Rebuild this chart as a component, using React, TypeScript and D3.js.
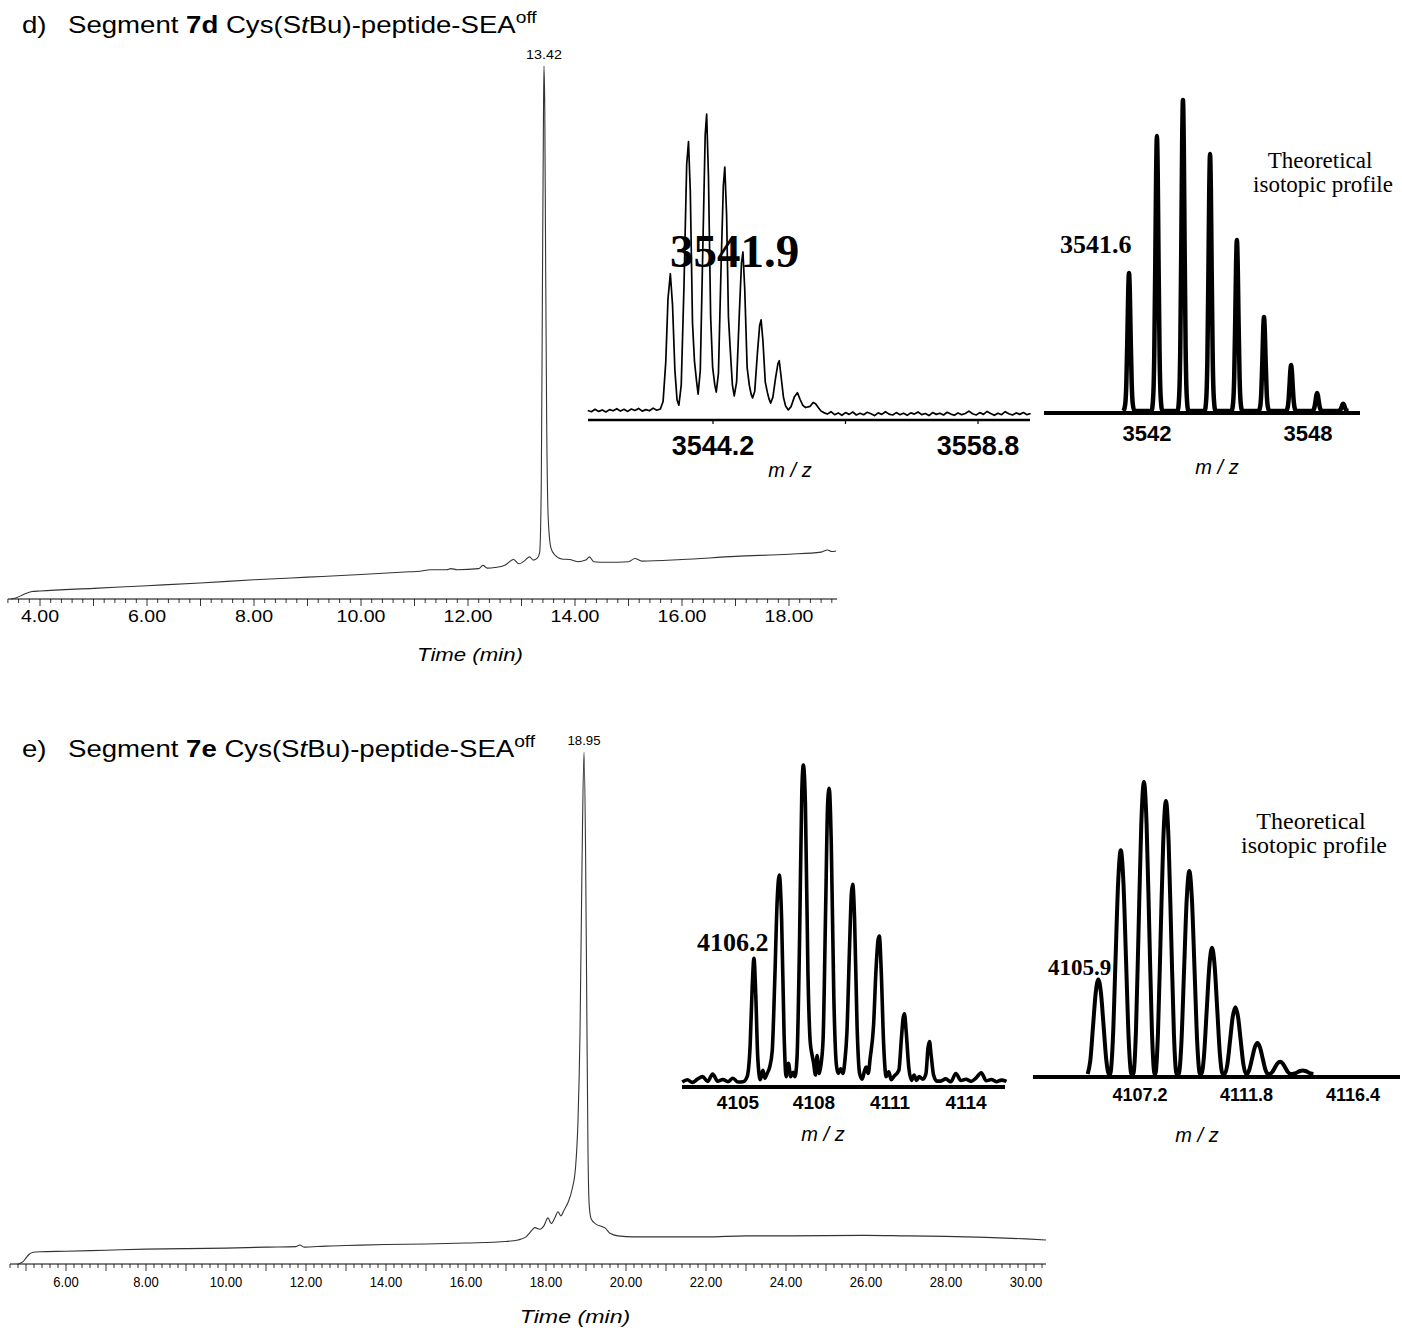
import React from 'react';
import * as d3 from 'd3';

type Pt = [number, number];

const FONT_SANS = '"Liberation Sans", Arial, sans-serif';
const FONT_SERIF = '"Liberation Serif", "Times New Roman", serif';

// ---------- HPLC traces: [time (min), signal (% of main peak)] ----------
const CHROM_D: Pt[] = [
  [3.45, 0], [3.55, 0.2], [3.7, 0.9], [3.85, 1.4], [4.0, 1.5], [5.0, 2.0], [6.0, 2.5],
  [7.0, 3.0], [8.0, 3.6], [9.0, 4.1], [10.0, 4.6], [10.9, 5.1], [11.1, 5.2], [11.3, 5.5],
  [11.6, 5.5], [11.68, 5.7], [11.8, 5.5], [12.2, 5.7], [12.28, 6.3], [12.36, 5.8],
  [12.5, 5.9], [12.7, 6.4], [12.85, 7.4], [12.95, 6.6], [13.05, 7.1], [13.15, 7.9],
  [13.22, 7.3], [13.3, 7.7], [13.34, 8.8], [13.37, 22], [13.39, 56], [13.41, 90],
  [13.42, 100], [13.435, 92], [13.45, 65], [13.47, 34], [13.5, 15], [13.55, 9.6],
  [13.62, 8.3], [13.75, 7.5], [13.9, 7.4], [14.05, 7.0], [14.2, 7.3], [14.27, 7.9],
  [14.35, 7.0], [14.6, 6.9], [15.0, 7.0], [15.12, 7.6], [15.25, 7.1], [16.0, 7.4],
  [17.0, 8.0], [18.0, 8.4], [18.6, 8.8], [18.72, 9.2], [18.8, 8.9], [18.88, 9.0],
];

const CHROM_E: Pt[] = [
  [4.8, 0], [4.92, 0.4], [5.0, 1.2], [5.08, 1.9], [5.18, 2.3], [5.35, 2.4], [6.0, 2.5],
  [7.0, 2.7], [8.0, 2.9], [9.0, 3.0], [10.0, 3.1], [11.0, 3.3], [11.75, 3.4], [11.85, 3.7],
  [11.95, 3.3], [12.5, 3.5], [13.0, 3.6], [14.0, 3.8], [15.0, 3.9], [16.0, 4.1], [17.0, 4.4],
  [17.3, 4.7], [17.5, 5.3], [17.65, 6.6], [17.72, 7.1], [17.85, 6.8], [17.95, 7.5],
  [18.05, 9.0], [18.13, 7.9], [18.22, 9.0], [18.3, 10.2], [18.37, 9.4], [18.45, 10.5],
  [18.55, 12.0], [18.65, 14.5], [18.74, 19], [18.8, 28], [18.85, 45], [18.9, 78],
  [18.95, 100], [18.99, 80], [19.02, 50], [19.05, 22], [19.08, 11.5], [19.13, 8.8],
  [19.25, 7.8], [19.4, 7.3], [19.48, 7.0], [19.6, 6.0], [19.8, 5.5], [20.2, 5.3],
  [22.0, 5.3], [23.0, 5.5], [24.0, 5.5], [26.0, 5.6], [27.0, 5.5], [28.0, 5.4],
  [29.0, 5.2], [30.0, 4.9], [30.5, 4.7],
];

const CHROM_D_LABELS = [4, 6, 8, 10, 12, 14, 16, 18];
const CHROM_E_LABELS = [6, 8, 10, 12, 14, 16, 18, 20, 22, 24, 26, 28, 30];
const PEAK_D = 13.42;
const PEAK_E = 18.95;

// ---------- measured ESI spectra: [m/z, relative intensity] ----------
// baseline noise sampled on a regular m/z grid
const MS_D_NOISE_STEP = 0.2;
const MS_D_NOISE_LEFT_START = 3537.3;
const MS_D_NOISE_LEFT = [
  0.5, 0.1, 0.9, 0.2, 0.7, 0.0, 0.8, 0.4, 1.1, 0.3, 0.9, 0.2, 1.0, 0.5, 1.2, 0.3, 0.8, 0.4, 1.3, 0.6,
];
const MS_D_PEAKS: Pt[] = [
  [3541.3, 1.0], [3541.45, 3.5], [3541.6, 17], [3541.72, 38], [3541.85, 46.4], [3541.97, 36],
  [3542.1, 14], [3542.22, 4], [3542.32, 2.3],
  [3542.45, 9], [3542.6, 42], [3542.75, 83], [3542.85, 90.7], [3542.95, 74], [3543.07, 30],
  [3543.18, 17], [3543.3, 10], [3543.38, 6],
  [3543.5, 14], [3543.65, 58], [3543.77, 93], [3543.85, 100], [3543.95, 79], [3544.07, 32],
  [3544.18, 15], [3544.3, 9], [3544.38, 6.7],
  [3544.5, 13], [3544.65, 50], [3544.77, 76], [3544.85, 82.2], [3544.95, 66], [3545.05, 32],
  [3545.15, 21], [3545.27, 9], [3545.37, 5.4],
  [3545.5, 10], [3545.65, 33], [3545.77, 50], [3545.85, 53.7], [3545.95, 41], [3546.08, 15],
  [3546.2, 9], [3546.3, 6], [3546.38, 4.7],
  [3546.5, 7], [3546.65, 20], [3546.77, 29], [3546.85, 30.9], [3546.95, 24], [3547.08, 10],
  [3547.2, 6.5], [3547.28, 4.5], [3547.38, 3],
  [3547.5, 5], [3547.65, 11.5], [3547.78, 16.3], [3547.85, 17.2], [3547.95, 12], [3548.08, 5],
  [3548.2, 2], [3548.35, 0.7],
  [3548.5, 1.8], [3548.68, 5], [3548.85, 6.5], [3549.0, 4.2], [3549.15, 2.2], [3549.3, 1.5],
  [3549.55, 1.9], [3549.72, 3.2], [3549.85, 2.8], [3550.0, 1.5], [3550.15, 0.3],
];
const MS_D_NOISE_RIGHT_START = 3550.3;
const MS_D_NOISE_RIGHT = [
  -0.2, -0.7, 0.1, -0.9, -0.3, -1.1, -0.2, -0.8, 0.0, -1.0, -0.4, -0.9, -0.1, -0.6, -1.2, -0.3,
  -0.8, 0.1, -0.7, -1.0, -0.2, -0.9, -0.4, -1.1, -0.3, -0.7, 0.0, -0.9, -0.5, -1.2, -0.2, -0.8,
  -0.4, -1.0, -0.1, -0.7, -1.1, -0.3, -0.9, -0.5, 0.3, -0.6, -1.0, -0.2, -0.8, 0.2, -0.5, -1.1,
  -0.4, -0.9, 0.1, -0.6, -1.0, -0.3, -0.8, -0.2, -0.9, -0.5,
];

const MS_E_NOISE_STEP = 0.2;
const MS_E_NOISE_LEFT_START = 4102.8;
const MS_E_NOISE_LEFT = [0.3, 1.0, 0.2, 1.2, 2.0, 0.5, 2.8, 0.6, 1.1, 0.4, 1.5, 0.3];
const MS_E_PEAKS: Pt[] = [
  [4105.2, 0.4], [4105.36, 2], [4105.48, 12], [4105.56, 30], [4105.63, 39.2], [4105.7, 28],
  [4105.78, 8], [4105.88, 1], [4105.98, 4], [4106.06, 1.5], [4106.15, 3], [4106.25, 5],
  [4106.35, 10], [4106.45, 32], [4106.55, 58], [4106.63, 65.4], [4106.72, 52], [4106.82, 15],
  [4106.9, 2], [4106.99, 6.2], [4107.08, 2], [4107.18, 3.4], [4107.25, 2],
  [4107.33, 8], [4107.43, 45], [4107.52, 92], [4107.58, 100], [4107.66, 88], [4107.76, 35],
  [4107.85, 13], [4107.92, 9], [4107.98, 6.5], [4108.06, 2.5], [4108.12, 8.6], [4108.2, 3],
  [4108.28, 6],
  [4108.36, 14], [4108.46, 55], [4108.54, 88], [4108.6, 92.7], [4108.68, 76], [4108.78, 28],
  [4108.88, 6], [4108.95, 3], [4109.05, 4.5], [4109.14, 3], [4109.22, 7],
  [4109.3, 16], [4109.4, 42], [4109.48, 60], [4109.53, 62.5], [4109.6, 52], [4109.7, 18],
  [4109.8, 3], [4109.9, 1.2], [4110.0, 4], [4110.06, 5], [4110.14, 3], [4110.22, 8],
  [4110.35, 18], [4110.45, 36], [4110.53, 45], [4110.58, 46.2], [4110.65, 36], [4110.75, 12],
  [4110.85, 2], [4110.95, 3.5], [4111.05, 1], [4111.15, 2],
  [4111.35, 4], [4111.45, 14], [4111.52, 20.5], [4111.57, 21.8], [4111.64, 16], [4111.74, 5],
  [4111.85, 0.8], [4111.95, 2.5], [4112.05, 0.8], [4112.15, 2], [4112.3, 1.2],
  [4112.42, 3], [4112.5, 11], [4112.56, 13], [4112.62, 9], [4112.72, 2.5], [4112.85, 0.6],
];
const MS_E_NOISE_RIGHT_START = 4113.0;
const MS_E_NOISE_RIGHT = [0.6, 1.3, 0.4, 3.0, 0.8, 1.2, 0.5, 1.6, 3.2, 0.7, 1.1, 0.4, 0.9, 0.5];

// ---------- theoretical isotopic profiles: centroid m/z and relative height ----------
const THEO_D_MZ = [3541.33, 3542.37, 3543.34, 3544.35, 3545.35, 3546.36, 3547.37, 3548.34, 3549.31];
const THEO_D_HEIGHT = [44.4, 88.4, 100, 82.6, 55, 30.2, 14.8, 5.8, 2.3];
const THEO_E_MZ = [4105.4, 4106.37, 4107.37, 4108.32, 4109.33, 4110.31, 4111.32, 4112.27, 4113.25, 4114.23];
const THEO_E_HEIGHT = [32.4, 76.6, 100, 93.5, 69.5, 43.2, 22.9, 10.6, 4.2, 1.2];

// peak outline used to draw each theoretical line (offset in half-widths, fraction of height)
const SHARP_PEAK: Pt[] = [
  [-1, 0], [-0.7, 0.05], [-0.5, 0.2], [-0.3, 0.55], [-0.15, 0.86], [0, 1],
  [0.15, 0.86], [0.3, 0.55], [0.5, 0.2], [0.7, 0.05], [1, 0],
];
const ROUND_PEAK: Pt[] = [
  [-1, 0], [-0.75, 0.146], [-0.5, 0.5], [-0.25, 0.854], [0, 1],
  [0.25, 0.854], [0.5, 0.5], [0.75, 0.146], [1, 0],
];

const gridSeries = (start: number, step: number, values: number[]): Pt[] =>
  values.map((v, i) => [start + i * step, v]);

const peakOutline = (mz: number[], h: number[], halfWidth: number, shape: Pt[]): Pt[] =>
  mz.flatMap((c, i) => shape.map(([u, f]) => [c + u * halfWidth, h[i] * f] as Pt));

// text stretched horizontally around its anchor point
const Stretched: React.FC<{
  x: number; y: number; sx: number; size: number; anchor?: string; italic?: boolean; children: React.ReactNode;
}> = ({ x, y, sx, size, anchor = 'middle', italic, children }) => (
  <text transform={`translate(${x},${y}) scale(${sx},1)`} textAnchor={anchor} fontSize={size}
    fontStyle={italic ? 'italic' : undefined}>
    {children}
  </text>
);

interface ChromProps {
  data: Pt[];
  x: d3.ScaleLinear<number, number>;
  y: d3.ScaleLinear<number, number>;
  axisY: number;
  axisFrom: number;
  axisTo: number;
  labels: number[];
  labelSize: number;
  labelStretch: number;
  labelY: number;
  peak: number;
  peakSize: number;
  timeX: number;
  timeY: number;
  timeStretch: number;
}

const Chromatogram: React.FC<ChromProps> = ({
  data, x, y, axisY, axisFrom, axisTo, labels, labelSize, labelStretch, labelY, peak, peakSize,
  timeX, timeY, timeStretch,
}) => {
  const line = d3.line<Pt>().x(d => x(d[0])).y(d => y(d[1])).curve(d3.curveMonotoneX);
  const ticks = d3.range(Math.ceil(axisFrom * 5), Math.floor(axisTo * 5) + 1);
  return (
    <g fontFamily={FONT_SANS}>
      <line x1={x(axisFrom)} x2={x(axisTo)} y1={axisY} y2={axisY} stroke="#000" strokeWidth={1} />
      {ticks.map(i => (
        <line key={i} x1={x(i / 5)} x2={x(i / 5)} y1={axisY} y2={axisY + (i % 5 === 0 ? 7 : 4)}
          stroke="#000" strokeWidth={0.8} />
      ))}
      {labels.map(t => (
        <Stretched key={t} x={x(t)} y={labelY} sx={labelStretch} size={labelSize}>{t.toFixed(2)}</Stretched>
      ))}
      <path d={line(data) ?? ''} fill="none" stroke="#333" strokeWidth={1.1} />
      <Stretched x={x(peak)} y={y(100) - 7} sx={1.1} size={peakSize}>{peak.toFixed(2)}</Stretched>
      <Stretched x={timeX} y={timeY} sx={timeStretch} size={19} italic>Time (min)</Stretched>
    </g>
  );
};

interface SpecProps {
  data: Pt[];
  x: d3.ScaleLinear<number, number>;
  y: d3.ScaleLinear<number, number>;
  axisY: number;
  axisX0: number;
  axisX1: number;
  axisWidth: number;
  lineWidth: number;
  curve: d3.CurveFactory;
  ticks: number[];
  labels: number[];
  digits: number;
  labelSize: number;
  labelY: number;
  mzX: number;
  mzY: number;
}

const Spectrum: React.FC<SpecProps> = ({
  data, x, y, axisY, axisX0, axisX1, axisWidth, lineWidth, curve, ticks, labels, digits,
  labelSize, labelY, mzX, mzY,
}) => {
  const line = d3.line<Pt>().x(d => x(d[0])).y(d => y(d[1])).curve(curve);
  return (
    <g fontFamily={FONT_SANS}>
      <path d={line(data) ?? ''} fill="none" stroke="#000" strokeWidth={lineWidth} strokeLinejoin="round" />
      <line x1={axisX0} x2={axisX1} y1={axisY} y2={axisY} stroke="#000" strokeWidth={axisWidth} />
      {ticks.map(t => (
        <line key={t} x1={x(t)} x2={x(t)} y1={axisY} y2={axisY + 4} stroke="#000" strokeWidth={1.2} />
      ))}
      {labels.map(t => (
        <text key={t} x={x(t)} y={labelY} textAnchor="middle" fontSize={labelSize} fontWeight="bold">
          {t.toFixed(digits)}
        </text>
      ))}
      <text x={mzX} y={mzY} textAnchor="middle" fontSize={20} fontStyle="italic" xmlSpace="preserve">m / z</text>
    </g>
  );
};

const TITLE_STRETCH = 1.2;

const Title: React.FC<{ y: number; letter: string; id: string }> = ({ y, letter, id }) => (
  <g transform={`translate(22,0) scale(${TITLE_STRETCH},1)`}>
    <text y={y} fontFamily={FONT_SANS} fontSize={23}>
      <tspan x={0}>{letter})</tspan>
      <tspan x={46 / TITLE_STRETCH}>Segment </tspan>
      <tspan fontWeight="bold">{id}</tspan>
      <tspan> Cys(S</tspan>
      <tspan fontStyle="italic">t</tspan>
      <tspan>Bu)-peptide-SEA</tspan>
      <tspan dy={-10} fontSize={16}>off</tspan>
    </text>
  </g>
);

const TheoLabel: React.FC<{ cx: number; y: number; size: number }> = ({ cx, y, size }) => (
  <text fontFamily={FONT_SERIF} fontSize={size} textAnchor="middle">
    <tspan x={cx} y={y}>Theoretical</tspan>
    <tspan x={cx + 3} y={y + 24}>isotopic profile</tspan>
  </text>
);

const App: React.FC = () => {
  const xD = d3.scaleLinear().domain([4, 18]).range([40, 789]);
  const yD = d3.scaleLinear().domain([0, 100]).range([599, 66]);
  const xE = d3.scaleLinear().domain([6, 30]).range([66, 1026]);
  const yE = d3.scaleLinear().domain([0, 100]).range([1264, 752]);

  const msDx = d3.scaleLinear().domain([3544.2, 3558.8]).range([713, 978]);
  const msDy = d3.scaleLinear().domain([0, 100]).range([412, 114]);
  const thDx = d3.scaleLinear().domain([3542, 3548]).range([1147, 1308]);
  const thDy = d3.scaleLinear().domain([0, 100]).range([411, 100]);

  const msEx = d3.scaleLinear().domain([4105, 4114]).range([738, 966]);
  const msEy = d3.scaleLinear().domain([0, 100]).range([1083, 765]);
  const thEx = d3.scaleLinear().domain([4107.2, 4116.4]).range([1140, 1353]);
  const thEy = d3.scaleLinear().domain([0, 100]).range([1074, 782]);

  const msD: Pt[] = [
    ...gridSeries(MS_D_NOISE_LEFT_START, MS_D_NOISE_STEP, MS_D_NOISE_LEFT),
    ...MS_D_PEAKS,
    ...gridSeries(MS_D_NOISE_RIGHT_START, MS_D_NOISE_STEP, MS_D_NOISE_RIGHT),
  ];
  const msE: Pt[] = [
    ...gridSeries(MS_E_NOISE_LEFT_START, MS_E_NOISE_STEP, MS_E_NOISE_LEFT),
    ...MS_E_PEAKS,
    ...gridSeries(MS_E_NOISE_RIGHT_START, MS_E_NOISE_STEP, MS_E_NOISE_RIGHT),
  ];
  const thD = peakOutline(THEO_D_MZ, THEO_D_HEIGHT, 0.2, SHARP_PEAK);
  const thE = peakOutline(THEO_E_MZ, THEO_E_HEIGHT, 0.46, ROUND_PEAK);

  return (
    <svg width={1402} height={1330} style={{ position: 'absolute', left: 0, top: 0, background: '#fff' }}>
      <rect width={1402} height={1330} fill="#fff" />
      <Title y={33} letter="d" id="7d" />
      <Title y={757} letter="e" id="7e" />

      <Chromatogram data={CHROM_D} x={xD} y={yD} axisY={599} axisFrom={3.4} axisTo={18.9}
        labels={CHROM_D_LABELS} labelSize={17} labelStretch={1.15} labelY={622} peak={PEAK_D} peakSize={13}
        timeX={470} timeY={661} timeStretch={1.17} />
      <Chromatogram data={CHROM_E} x={xE} y={yE} axisY={1264} axisFrom={4.6} axisTo={30.5}
        labels={CHROM_E_LABELS} labelSize={14} labelStretch={0.93} labelY={1287} peak={PEAK_E} peakSize={12}
        timeX={575} timeY={1323} timeStretch={1.22} />

      {/* panel d, measured */}
      <Spectrum data={msD} x={msDx} y={msDy} axisY={420} axisX0={588} axisX1={1030} axisWidth={2.5}
        lineWidth={1.7} curve={d3.curveLinear} ticks={[3544.2, 3551.5, 3558.8]} labels={[3544.2, 3558.8]}
        digits={1} labelSize={27} labelY={455} mzX={790} mzY={477} />
      <text x={670} y={267} fontFamily={FONT_SERIF} fontWeight="bold" fontSize={47}>3541.9</text>

      {/* panel d, theoretical */}
      <Spectrum data={thD} x={thDx} y={thDy} axisY={413} axisX0={1044} axisX1={1360} axisWidth={4}
        lineWidth={4.5} curve={d3.curveMonotoneX} ticks={[]} labels={[3542, 3548]}
        digits={0} labelSize={22} labelY={441} mzX={1217} mzY={474} />
      <text x={1060} y={253} fontFamily={FONT_SERIF} fontWeight="bold" fontSize={26}>3541.6</text>
      <TheoLabel cx={1320} y={168} size={23} />

      {/* panel e, measured */}
      <Spectrum data={msE} x={msEx} y={msEy} axisY={1087} axisX0={682} axisX1={1005} axisWidth={4}
        lineWidth={3.6} curve={d3.curveMonotoneX} ticks={[]} labels={[4105, 4108, 4111, 4114]}
        digits={0} labelSize={19} labelY={1109} mzX={823} mzY={1141} />
      <text x={697} y={951} fontFamily={FONT_SERIF} fontWeight="bold" fontSize={26}>4106.2</text>

      {/* panel e, theoretical */}
      <Spectrum data={thE} x={thEx} y={thEy} axisY={1077} axisX0={1033} axisX1={1400} axisWidth={4}
        lineWidth={4} curve={d3.curveMonotoneX} ticks={[]} labels={[4107.2, 4111.8, 4116.4]}
        digits={1} labelSize={18} labelY={1101} mzX={1197} mzY={1142} />
      <text x={1048} y={975} fontFamily={FONT_SERIF} fontWeight="bold" fontSize={23}>4105.9</text>
      <TheoLabel cx={1311} y={829} size={24} />
    </svg>
  );
};

export default App;
